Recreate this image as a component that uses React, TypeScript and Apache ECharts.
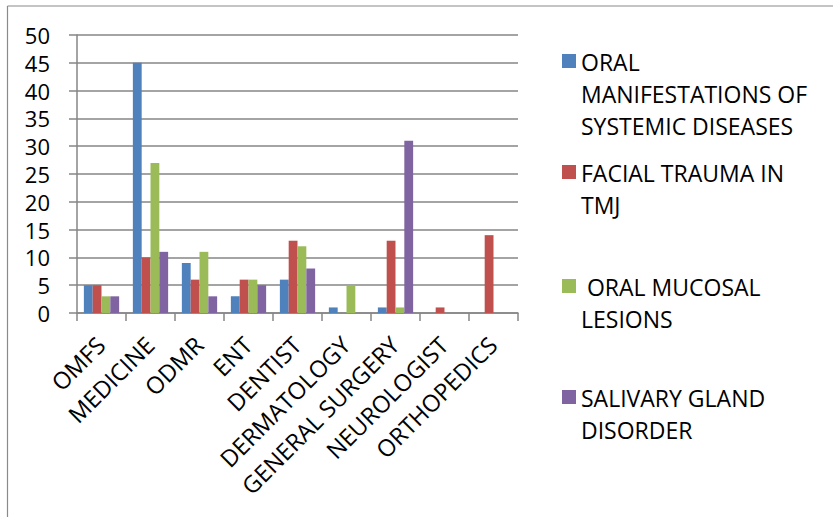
import React, { useEffect, useRef } from "react";
import * as echarts from "echarts";

const categories = [
  "OMFS",
  "MEDICINE",
  "ODMR",
  "ENT",
  "DENTIST",
  "DERMATOLOGY",
  "GENERAL SURGERY",
  "NEUROLOGIST",
  "ORTHOPEDICS",
];

const seriesNames = [
  "ORAL MANIFESTATIONS OF SYSTEMIC DISEASES",
  "FACIAL TRAUMA IN TMJ",
  " ORAL MUCOSAL LESIONS",
  "SALIVARY GLAND DISORDER",
];

const legendLines = [
  ["ORAL", "MANIFESTATIONS OF", "SYSTEMIC DISEASES"],
  ["FACIAL TRAUMA IN", "TMJ"],
  [" ORAL MUCOSAL", "LESIONS"],
  ["SALIVARY GLAND", "DISORDER"],
];

const oralManifestations = [5, 45, 9, 3, 6, 1, 1, 0, 0];
const facialTrauma = [5, 10, 6, 6, 13, 0, 13, 1, 14];
const oralMucosal = [3, 27, 11, 6, 12, 5, 1, 0, 0];
const salivaryGland = [3, 11, 3, 5, 8, 0, 31, 0, 0];

const yTicks = [0, 5, 10, 15, 20, 25, 30, 35, 40, 45, 50];

const colors = ["#4F81BD", "#C0504D", "#9BBB59", "#8064A2"];

const FONT = "'Open Sans', Lato, sans-serif";

export default function App() {
  const ref = useRef<HTMLDivElement>(null);

  useEffect(() => {
    if (!ref.current) return;
    const chart = echarts.init(ref.current, undefined, { renderer: "svg" });
    const values = [oralManifestations, facialTrauma, oralMucosal, salivaryGland];

    const legendLineCenters = [62, 173, 287, 398];
    const graphics: any[] = [
      {
        type: "line",
        shape: { x1: 7.5, y1: 6, x2: 7.5, y2: 517 },
        style: { stroke: "#8a8a8a", lineWidth: 1.2 },
      },
      {
        type: "line",
        shape: { x1: 7.5, y1: 6, x2: 833, y2: 6 },
        style: { stroke: "#8a8a8a", lineWidth: 1.2 },
      },
    ];
    legendLines.forEach((lines, i) => {
      const c = legendLineCenters[i];
      graphics.push({
        type: "rect",
        shape: { x: 562, y: c - 8, width: 14, height: 14 },
        style: { fill: colors[i] },
      });
      graphics.push({
        type: "text",
        x: 581,
        y: c - 16,
        style: {
          text: lines.join("\n"),
          font: `23px ${FONT}`,
          lineHeight: 32,
          fill: "#000",
          verticalAlign: "top",
        },
      });
    });

    chart.setOption({
      animation: false,
      backgroundColor: "#fff",
      grid: { left: 77, top: 35, right: 315, bottom: 204, containLabel: false },
      xAxis: {
        type: "category",
        data: categories,
        boundaryGap: true,
        axisLine: { lineStyle: { color: "#868686", width: 1.5 } },
        axisTick: { show: true, length: 8, lineStyle: { color: "#868686", width: 1.5 } },
        axisLabel: {
          rotate: 45,
          interval: 0,
          margin: 27,
          padding: [0, 1, 0, 0],
          color: "#000",
          fontFamily: FONT,
          fontSize: 23.5,
        },
      },
      yAxis: {
        type: "value",
        min: 0,
        max: 50,
        interval: 5,
        axisLine: { show: true, lineStyle: { color: "#868686", width: 1.5 } },
        axisTick: { show: true, length: 8, lineStyle: { color: "#868686", width: 1.5 } },
        splitLine: { lineStyle: { color: "#868686", width: 1.5 } },
        axisLabel: {
          margin: 27,
          color: "#000",
          fontFamily: FONT,
          fontSize: 22,
          formatter: (v: number) => (yTicks.includes(v) ? String(v) : ""),
        },
      },
      series: seriesNames.map((name, i) => ({
        name,
        type: "bar",
        data: values[i],
        barGap: "0%",
        barCategoryGap: "28%",
        itemStyle: { color: colors[i] },
      })),
      graphic: graphics,
    });

    return () => chart.dispose();
  }, []);

  return (
    <div
      ref={ref}
      style={{ position: "fixed", left: 0, top: 0, width: 833, height: 517 }}
    />
  );
}
